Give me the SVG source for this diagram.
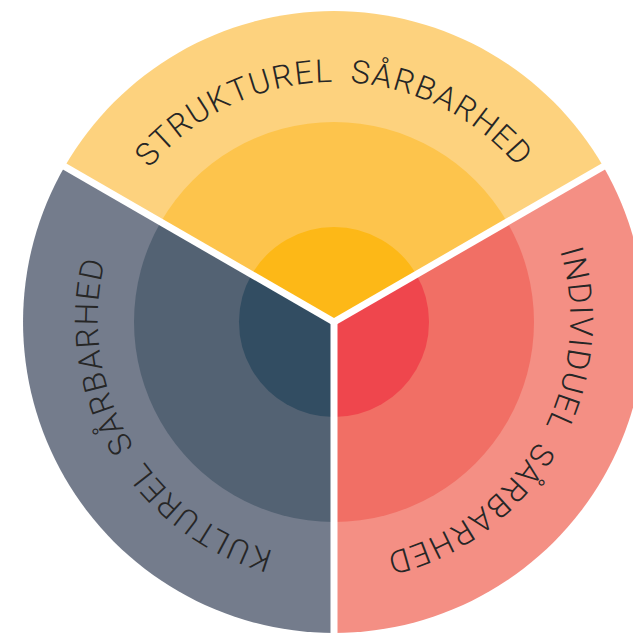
<svg xmlns="http://www.w3.org/2000/svg" width="633" height="633" viewBox="0 0 633 633">
<defs>
<style>
.lbl{font-family:Roboto,"Liberation Sans",Arial,sans-serif;font-weight:300;font-size:32px;fill:#262626;letter-spacing:1.5px;word-spacing:7px}
.sep{stroke:#fff;stroke-width:7;fill:none}
</style>
<path id="pTop" d="M94,322 A240,240 0 0 1 574,322"/>
<path id="pLeft" d="M454,529.8 A240,240 0 0 1 214,114.2"/>
<path id="pRight" d="M454,114.2 A240,240 0 0 1 214,529.8"/>
</defs>
<rect width="633" height="633" fill="#fff"/>
<g id="strukturel">
<path d="M334,322 L64.7,166.5 A311,311 0 0 1 603.3,166.5 Z" fill="#FDD27E"/>
<path d="M334,322 L160.8,222 A200,200 0 0 1 507.2,222 Z" fill="#FDC44C"/>
<path d="M334,322 L251.7,274.5 A95,95 0 0 1 416.3,274.5 Z" fill="#FDB817"/>
<text class="lbl"><textPath href="#pTop" startOffset="50%" text-anchor="middle">STRUKTUREL SÅRBARHED</textPath></text>
</g>
<g id="kulturel">
<path d="M334,322 L334,633 A311,311 0 0 1 64.7,166.5 Z" fill="#747C8C"/>
<path d="M334,322 L334,522 A200,200 0 0 1 160.8,222 Z" fill="#536273"/>
<path d="M334,322 L334,417 A95,95 0 0 1 251.7,274.5 Z" fill="#324D62"/>
<text class="lbl"><textPath href="#pLeft" startOffset="50%" text-anchor="middle">KULTUREL SÅRBARHED</textPath></text>
</g>
<g id="individuel">
<path d="M334,322 L603.3,166.5 A311,311 0 0 1 334,633 Z" fill="#F48F84"/>
<path d="M334,322 L507.2,222 A200,200 0 0 1 334,522 Z" fill="#F16F65"/>
<path d="M334,322 L416.3,274.5 A95,95 0 0 1 334,417 Z" fill="#EF464D"/>
<text class="lbl"><textPath href="#pRight" startOffset="50%" text-anchor="middle">INDIVIDUEL SÅRBARHED</textPath></text>
</g>
<g id="connectors">
<line class="sep" x1="334" y1="322" x2="334" y2="640"/>
<line class="sep" x1="334" y1="322" x2="48.2" y2="157"/>
<line class="sep" x1="334" y1="322" x2="619.8" y2="157"/>
</g>
</svg>
